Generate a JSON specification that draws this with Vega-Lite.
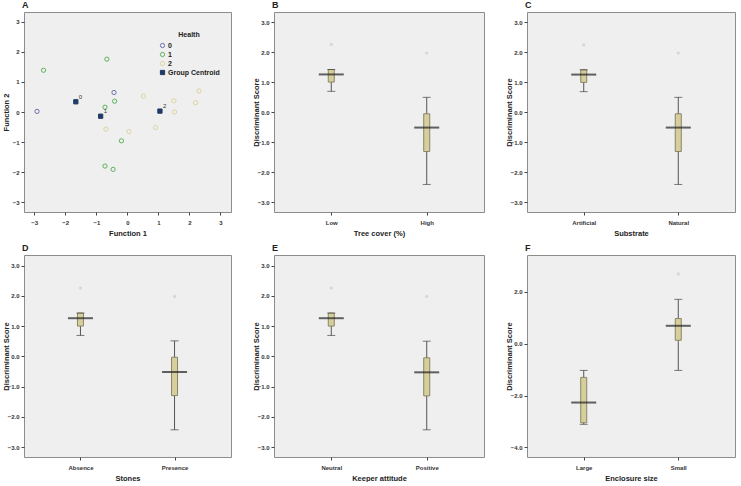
{
  "$schema": "https://vega.github.io/schema/vega-lite/v6.json",
  "background": "white",
  "padding": {"left": 1, "top": 0, "right": 0, "bottom": 0},
  "config": {
    "font": "Liberation Sans",
    "view": {"stroke": "#8c8c8c", "strokeWidth": 1, "fill": "#eeefee"},
    "title": {"anchor": "start", "dx": 20, "fontSize": 9, "fontWeight": "bold", "offset": 2, "color": "#222222", "font": "Liberation Sans"},
    "axis": {"domain": false, "grid": false, "tickSize": 3, "tickColor": "#444444", "tickCount": 12, "labelFontSize": 6, "labelFontWeight": "bold", "labelColor": "#333333", "titleFontSize": 7.5, "titleFontWeight": "bold", "titleColor": "#222222", "labelFont": "Liberation Sans", "titleFont": "Liberation Sans", "labelOverlap": false, "labelBound": false, "labelFlush": false},
    "axisY": {"minExtent": 13, "maxExtent": 13, "labelPadding": 2, "titlePadding": 1},
    "axisX": {"minExtent": 13, "maxExtent": 13, "labelPadding": 4, "titlePadding": 4, "labelAngle": 0},
    "legend": {"orient": "none", "legendX": 135, "legendY": 19, "titleFontSize": 7, "labelFontSize": 7, "labelFontWeight": "bold", "titleFontWeight": "bold", "symbolSize": 40, "rowPadding": 0, "titleAnchor": "middle", "titlePadding": 4, "symbolStrokeWidth": 1, "labelOffset": 2, "labelColor": "#222222", "titleColor": "#222222"}
  },
  "datasets": {
    "disc": [
      {"fx": -2.91, "fy": 0.02, "grp": "0", "lab": ""},
      {"fx": -0.43, "fy": 0.65, "grp": "0", "lab": ""},
      {"fx": -2.70, "fy": 1.39, "grp": "1", "lab": ""},
      {"fx": -0.66, "fy": 1.76, "grp": "1", "lab": ""},
      {"fx": -0.72, "fy": 0.16, "grp": "1", "lab": ""},
      {"fx": -0.41, "fy": 0.36, "grp": "1", "lab": ""},
      {"fx": -0.19, "fy": -0.96, "grp": "1", "lab": ""},
      {"fx": -0.72, "fy": -1.80, "grp": "1", "lab": ""},
      {"fx": -0.46, "fy": -1.91, "grp": "1", "lab": ""},
      {"fx": -0.69, "fy": -0.57, "grp": "2", "lab": ""},
      {"fx": 0.05, "fy": -0.65, "grp": "2", "lab": ""},
      {"fx": 0.52, "fy": 0.53, "grp": "2", "lab": ""},
      {"fx": 0.91, "fy": -0.52, "grp": "2", "lab": ""},
      {"fx": 1.50, "fy": 0.37, "grp": "2", "lab": ""},
      {"fx": 1.52, "fy": 0.00, "grp": "2", "lab": ""},
      {"fx": 2.20, "fy": 0.31, "grp": "2", "lab": ""},
      {"fx": 2.31, "fy": 0.70, "grp": "2", "lab": ""},
      {"fx": -1.66, "fy": 0.34, "grp": "Group Centroid", "lab": "0"},
      {"fx": -0.86, "fy": -0.14, "grp": "Group Centroid", "lab": "1"},
      {"fx": 1.05, "fy": 0.03, "grp": "Group Centroid", "lab": "2"}
    ],
    "tree": [
      {"cat": "Low", "lo": 0.70, "q1": 1.01, "med": 1.265, "q3": 1.43, "hi": 1.43, "out": 2.27},
      {"cat": "High", "lo": -2.41, "q1": -1.31, "med": -0.51, "q3": -0.05, "hi": 0.50, "out": 1.98}
    ],
    "subs": [
      {"cat": "Artificial", "lo": 0.69, "q1": 1.00, "med": 1.26, "q3": 1.42, "hi": 1.42, "out": 2.25},
      {"cat": "Natural", "lo": -2.41, "q1": -1.31, "med": -0.51, "q3": -0.05, "hi": 0.50, "out": 1.98}
    ],
    "stones": [
      {"cat": "Absence", "lo": 0.69, "q1": 1.00, "med": 1.26, "q3": 1.43, "hi": 1.43, "out": 2.26},
      {"cat": "Presence", "lo": -2.43, "q1": -1.30, "med": -0.52, "q3": -0.03, "hi": 0.51, "out": 1.98}
    ],
    "keeper": [
      {"cat": "Neutral", "lo": 0.69, "q1": 1.00, "med": 1.26, "q3": 1.43, "hi": 1.43, "out": 2.26},
      {"cat": "Positive", "lo": -2.43, "q1": -1.31, "med": -0.53, "q3": -0.05, "hi": 0.50, "out": 1.98}
    ],
    "encl": [
      {"cat": "Large", "lo": -3.11, "q1": -3.05, "med": -2.27, "q3": -1.30, "hi": -1.03, "out": null},
      {"cat": "Small", "lo": -1.03, "q1": 0.13, "med": 0.69, "q3": 0.97, "hi": 1.71, "out": 2.69}
    ]
  },
  "columns": 3,
  "align": "each",
  "spacing": {"row": 6, "column": 19},
  "concat": [
    {
      "width": 207, "height": 200,
      "title": "A",
      "data": {"name": "disc"},
      "layer": [
        {
          "mark": {"type": "point", "strokeWidth": 1, "opacity": 1},
          "encoding": {
            "x": {"field": "fx", "type": "quantitative", "title": "Function 1", "scale": {"domain": [-3.33, 3.34], "nice": false, "zero": false}, "axis": {"values": [-3, -2, -1, 0, 1, 2, 3], "format": "d", "tickCount": 12}},
            "y": {"field": "fy", "type": "quantitative", "title": "Function 2", "scale": {"domain": [-3.33, 3.33], "nice": false, "zero": false}, "axis": {"values": [-3, -2, -1, 0, 1, 2, 3], "format": "d", "tickCount": 12}},
            "shape": {"field": "grp", "type": "nominal", "title": "Health", "scale": {"domain": ["0", "1", "2", "Group Centroid"], "range": ["circle", "circle", "circle", "square"]}},
            "stroke": {"field": "grp", "type": "nominal", "title": "Health", "scale": {"domain": ["0", "1", "2", "Group Centroid"], "range": ["#6d70ad", "#5cb35c", "#ddd5a3", "#1f3a66"]}},
            "fill": {"field": "grp", "type": "nominal", "title": "Health", "scale": {"domain": ["0", "1", "2", "Group Centroid"], "range": ["transparent", "transparent", "transparent", "#1f3a66"]}},
            "size": {"field": "grp", "type": "nominal", "title": "Health", "scale": {"domain": ["0", "1", "2", "Group Centroid"], "range": [18, 18, 18, 42]}}
          }
        },
        {
          "transform": [{"filter": "datum.lab != ''"}],
          "mark": {"type": "text", "dx": 3, "dy": -5, "align": "left", "fontSize": 6, "color": "#333333"},
          "encoding": {
            "x": {"field": "fx", "type": "quantitative"},
            "y": {"field": "fy", "type": "quantitative"},
            "text": {"field": "lab"}
          }
        }
      ]
    },
    {
      "width": 210, "height": 200,
      "title": "B",
      "data": {"name": "tree"},
      "encoding": {"x": {"field": "cat", "type": "nominal", "title": "Tree cover (%)", "sort": ["Low", "High"], "scale": {"type": "point", "padding": 0.6}}},
      "layer": [
        {"mark": {"type": "rule", "color": "#555555", "strokeWidth": 1}, "encoding": {"y": {"field": "lo", "type": "quantitative", "title": "Discriminant Score", "scale": {"domain": [-3.33, 3.35], "nice": false, "zero": false}, "axis": {"values": [-3, -2, -1, 0, 1, 2, 3], "format": ".1f", "tickCount": 12}}, "y2": {"field": "hi"}}},
        {"mark": {"type": "bar", "width": 6, "fill": "#d6cf9d", "stroke": "#8a8566", "strokeWidth": 1}, "encoding": {"y": {"field": "q1", "type": "quantitative", "title": "Discriminant Score", "scale": {"domain": [-3.33, 3.35], "nice": false, "zero": false}}, "y2": {"field": "q3"}}},
        {"mark": {"type": "tick", "size": 8, "thickness": 1, "color": "#444444"}, "encoding": {"y": {"field": "lo", "type": "quantitative", "title": "Discriminant Score"}}},
        {"mark": {"type": "tick", "size": 8, "thickness": 1, "color": "#444444"}, "encoding": {"y": {"field": "hi", "type": "quantitative", "title": "Discriminant Score"}}},
        {"mark": {"type": "tick", "size": 25, "thickness": 2, "color": "#222222"}, "encoding": {"y": {"field": "med", "type": "quantitative", "title": "Discriminant Score"}}},
        {"mark": {"type": "point", "filled": true, "size": 10, "color": "#d6d6d6", "opacity": 1}, "encoding": {"y": {"field": "out", "type": "quantitative", "title": "Discriminant Score"}}}
      ]
    },
    {
      "width": 208, "height": 200,
      "title": "C",
      "data": {"name": "subs"},
      "encoding": {"x": {"field": "cat", "type": "nominal", "title": "Substrate", "sort": ["Artificial", "Natural"], "scale": {"type": "point", "padding": 0.6}}},
      "layer": [
        {"mark": {"type": "rule", "color": "#555555", "strokeWidth": 1}, "encoding": {"y": {"field": "lo", "type": "quantitative", "title": "Discriminant Score", "scale": {"domain": [-3.33, 3.35], "nice": false, "zero": false}, "axis": {"values": [-3, -2, -1, 0, 1, 2, 3], "format": ".1f", "tickCount": 12}}, "y2": {"field": "hi"}}},
        {"mark": {"type": "bar", "width": 6, "fill": "#d6cf9d", "stroke": "#8a8566", "strokeWidth": 1}, "encoding": {"y": {"field": "q1", "type": "quantitative", "title": "Discriminant Score", "scale": {"domain": [-3.33, 3.35], "nice": false, "zero": false}}, "y2": {"field": "q3"}}},
        {"mark": {"type": "tick", "size": 8, "thickness": 1, "color": "#444444"}, "encoding": {"y": {"field": "lo", "type": "quantitative", "title": "Discriminant Score"}}},
        {"mark": {"type": "tick", "size": 8, "thickness": 1, "color": "#444444"}, "encoding": {"y": {"field": "hi", "type": "quantitative", "title": "Discriminant Score"}}},
        {"mark": {"type": "tick", "size": 25, "thickness": 2, "color": "#222222"}, "encoding": {"y": {"field": "med", "type": "quantitative", "title": "Discriminant Score"}}},
        {"mark": {"type": "point", "filled": true, "size": 10, "color": "#d6d6d6", "opacity": 1}, "encoding": {"y": {"field": "out", "type": "quantitative", "title": "Discriminant Score"}}}
      ]
    },
    {
      "width": 207, "height": 202,
      "title": "D",
      "data": {"name": "stones"},
      "encoding": {"x": {"field": "cat", "type": "nominal", "title": "Stones", "sort": ["Absence", "Presence"], "scale": {"type": "point", "padding": 0.6}}},
      "layer": [
        {"mark": {"type": "rule", "color": "#555555", "strokeWidth": 1}, "encoding": {"y": {"field": "lo", "type": "quantitative", "title": "Discriminant Score", "scale": {"domain": [-3.33, 3.35], "nice": false, "zero": false}, "axis": {"values": [-3, -2, -1, 0, 1, 2, 3], "format": ".1f", "tickCount": 12}}, "y2": {"field": "hi"}}},
        {"mark": {"type": "bar", "width": 6, "fill": "#d6cf9d", "stroke": "#8a8566", "strokeWidth": 1}, "encoding": {"y": {"field": "q1", "type": "quantitative", "title": "Discriminant Score", "scale": {"domain": [-3.33, 3.35], "nice": false, "zero": false}}, "y2": {"field": "q3"}}},
        {"mark": {"type": "tick", "size": 8, "thickness": 1, "color": "#444444"}, "encoding": {"y": {"field": "lo", "type": "quantitative", "title": "Discriminant Score"}}},
        {"mark": {"type": "tick", "size": 8, "thickness": 1, "color": "#444444"}, "encoding": {"y": {"field": "hi", "type": "quantitative", "title": "Discriminant Score"}}},
        {"mark": {"type": "tick", "size": 25, "thickness": 2, "color": "#222222"}, "encoding": {"y": {"field": "med", "type": "quantitative", "title": "Discriminant Score"}}},
        {"mark": {"type": "point", "filled": true, "size": 10, "color": "#d6d6d6", "opacity": 1}, "encoding": {"y": {"field": "out", "type": "quantitative", "title": "Discriminant Score"}}}
      ]
    },
    {
      "width": 210, "height": 202,
      "title": "E",
      "data": {"name": "keeper"},
      "encoding": {"x": {"field": "cat", "type": "nominal", "title": "Keeper attitude", "sort": ["Neutral", "Positive"], "scale": {"type": "point", "padding": 0.6}}},
      "layer": [
        {"mark": {"type": "rule", "color": "#555555", "strokeWidth": 1}, "encoding": {"y": {"field": "lo", "type": "quantitative", "title": "Discriminant Score", "scale": {"domain": [-3.33, 3.35], "nice": false, "zero": false}, "axis": {"values": [-3, -2, -1, 0, 1, 2, 3], "format": ".1f", "tickCount": 12}}, "y2": {"field": "hi"}}},
        {"mark": {"type": "bar", "width": 6, "fill": "#d6cf9d", "stroke": "#8a8566", "strokeWidth": 1}, "encoding": {"y": {"field": "q1", "type": "quantitative", "title": "Discriminant Score", "scale": {"domain": [-3.33, 3.35], "nice": false, "zero": false}}, "y2": {"field": "q3"}}},
        {"mark": {"type": "tick", "size": 8, "thickness": 1, "color": "#444444"}, "encoding": {"y": {"field": "lo", "type": "quantitative", "title": "Discriminant Score"}}},
        {"mark": {"type": "tick", "size": 8, "thickness": 1, "color": "#444444"}, "encoding": {"y": {"field": "hi", "type": "quantitative", "title": "Discriminant Score"}}},
        {"mark": {"type": "tick", "size": 25, "thickness": 2, "color": "#222222"}, "encoding": {"y": {"field": "med", "type": "quantitative", "title": "Discriminant Score"}}},
        {"mark": {"type": "point", "filled": true, "size": 10, "color": "#d6d6d6", "opacity": 1}, "encoding": {"y": {"field": "out", "type": "quantitative", "title": "Discriminant Score"}}}
      ]
    },
    {
      "width": 208, "height": 202,
      "title": "F",
      "data": {"name": "encl"},
      "encoding": {"x": {"field": "cat", "type": "nominal", "title": "Enclosure size", "sort": ["Large", "Small"], "scale": {"type": "point", "padding": 0.6}}},
      "layer": [
        {"mark": {"type": "rule", "color": "#555555", "strokeWidth": 1}, "encoding": {"y": {"field": "lo", "type": "quantitative", "title": "Discriminant Score", "scale": {"domain": [-4.37, 3.42], "nice": false, "zero": false}, "axis": {"values": [-4, -2, 0, 2], "format": ".1f", "tickCount": 12}}, "y2": {"field": "hi"}}},
        {"mark": {"type": "bar", "width": 6, "fill": "#d6cf9d", "stroke": "#8a8566", "strokeWidth": 1}, "encoding": {"y": {"field": "q1", "type": "quantitative", "title": "Discriminant Score", "scale": {"domain": [-4.37, 3.42], "nice": false, "zero": false}}, "y2": {"field": "q3"}}},
        {"mark": {"type": "tick", "size": 8, "thickness": 1, "color": "#444444"}, "encoding": {"y": {"field": "lo", "type": "quantitative", "title": "Discriminant Score"}}},
        {"mark": {"type": "tick", "size": 8, "thickness": 1, "color": "#444444"}, "encoding": {"y": {"field": "hi", "type": "quantitative", "title": "Discriminant Score"}}},
        {"mark": {"type": "tick", "size": 25, "thickness": 2, "color": "#222222"}, "encoding": {"y": {"field": "med", "type": "quantitative", "title": "Discriminant Score"}}},
        {"mark": {"type": "point", "filled": true, "size": 10, "color": "#d6d6d6", "opacity": 1}, "encoding": {"y": {"field": "out", "type": "quantitative", "title": "Discriminant Score"}}}
      ]
    }
  ]
}
